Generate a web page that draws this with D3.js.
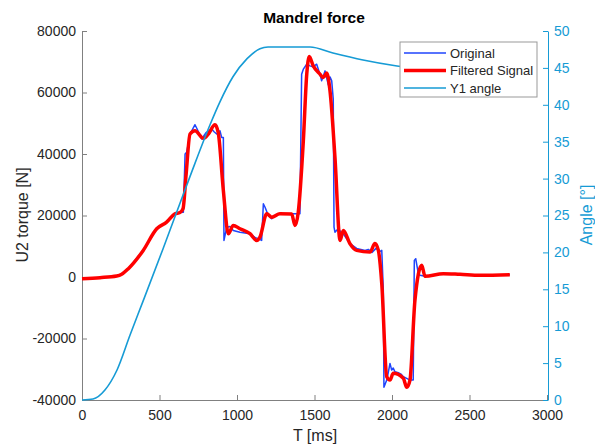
<!DOCTYPE html>
<html>
<head>
<meta charset="utf-8">
<script src="https://cdn.jsdelivr.net/npm/d3@7"></script>
<style>
  body { margin: 0; background: #fff; }
  svg { font-family: "Liberation Sans", Arial, sans-serif; }
  .tick text { font-size: 14px; }
</style>
</head>
<body>
<svg width="595" height="445"></svg>
<script>
// tick labels
var xTicks = [0, 500, 1000, 1500, 2000, 2500, 3000];
var yLeftTicks = [-40000, -20000, 0, 20000, 40000, 60000, 80000];
var yRightTicks = [0, 5, 10, 15, 20, 25, 30, 35, 40, 45, 50];

// Y1 angle [deg] vs T [ms]
var angleT = [0, 71, 148, 226, 310, 394, 523, 697, 826, 890, 974, 1065, 1148, 1200, 1471, 1619, 1813, 2032, 2245, 2748];
var angleV = [0, 0.14, 1.36, 4.07, 8.81, 13.4, 20.5, 30.3, 37.3, 40.4, 43.8, 46.25, 47.6, 47.83, 47.83, 47.02, 46.07, 45.26, 44.72, 44.3];

// filtered signal [N]
var filtT = [0, 116, 224, 256, 299, 395, 482, 546, 600, 632, 652, 671, 697, 729, 783, 815, 858, 879, 912, 944,
  976, 1019, 1084, 1127, 1148, 1192, 1224, 1277, 1353, 1374, 1395, 1428, 1450, 1466, 1492, 1535, 1557, 1579, 1600, 1632,
  1665, 1686, 1729, 1772, 1858, 1890, 1912, 1934, 1966, 1987, 2008, 2073, 2095, 2116, 2148, 2192, 2213, 2331, 2439, 2568, 2760];
var filtV = [-530, -210, 310, 870, 2710, 8650, 15690, 17830, 20550, 20970, 22270, 32970, 46500, 47570, 45070, 46500, 49515, 46920, 28110, 14070,
  16760, 15690, 14070, 11890, 12960, 20550, 19450, 20550, 20490, 16760, 20970, 44330, 65960, 71730, 68650, 65960, 64860, 66380, 60540, 38910,
  11890, 15140, 10820, 8650, 8100, 10920, 8650, -2150, -32440, -33510, -31340, -32960, -35880, -33510, -7570, 3785, 217, 1090, 866, 540, 768];

// original signal [N]
var origT = [0, 116, 224, 256, 299, 395, 482, 546, 600, 632, 654, 665, 675, 697, 729, 742, 772, 800, 837, 852,
  869, 890, 901, 912, 916, 934, 955, 976, 1019, 1084, 1116, 1159, 1170, 1181, 1202, 1224, 1252, 1310, 1406, 1417,
  1428, 1450, 1471, 1490, 1514, 1535, 1546, 1568, 1589, 1600, 1611, 1621, 1626, 1632, 1654, 1671, 1686, 1729, 1772, 1826,
  1847, 1871, 1897, 1923, 1934, 1944, 1948, 1966, 1974, 1987, 1998, 2008, 2019, 2041, 2058, 2073, 2095, 2116, 2137, 2144,
  2153, 2170, 2181, 2213, 2331, 2439, 2568, 2760];
var origV = [-530, -210, 310, 870, 2710, 8650, 15690, 17830, 20550, 20970, 21070, 40010, 40530, 46500, 49520, 48220, 44880, 46920, 48120, 47245,
  46500, 47570, 45400, 45400, 11890, 16210, 16430, 15140, 14585, 14070, 12870, 11890, 23800, 22690, 20000, 18930, 20330, 20550, 20550, 65960,
  67580, 69200, 68650, 68330, 69200, 65960, 63790, 67030, 62490, 65080, 63790, 57850, 16210, 14585, 15785, 14490, 14070, 10820, 9300, 8650,
  8970, 8000, 9300, 8325, 8650, -4320, -35880, -33510, -31570, -28100, -30270, -29620, -30820, -31150, -31570, -32440, -32960, -33510, -33510, 5406,
  5957, 1090, 540, 217, 1090, 866, 540, 768];

var legendNames = ["Original", "Filtered Signal", "Y1 angle"];

var BLUE = "#1f45fc", RED = "#ff0000", CYAN = "#169bd5", GREY = "#808080", TEXT = "#262626";

var svg = d3.select("svg");

var x = d3.scaleLinear().domain([0, 3000]).range([82, 547]);
var yL = d3.scaleLinear().domain([-40000, 80000]).range([400, 31]);
var yR = d3.scaleLinear().domain([0, 50]).range([400, 31]);

function pairs(ts, vs){ return ts.map(function(t, i){ return [t, vs[i]]; }); }

// axes (ticks point inward like matlab)
var gx = svg.append("g").attr("transform", "translate(0,400)")
  .call(d3.axisBottom(x).tickValues(xTicks).tickFormat(function(d){ return String(d); })
    .tickSizeInner(-5).tickSizeOuter(0).tickPadding(10));
var gl = svg.append("g").attr("transform", "translate(82,0)")
  .call(d3.axisLeft(yL).tickValues(yLeftTicks).tickFormat(function(d){ return String(d); })
    .tickSizeInner(-5).tickSizeOuter(0).tickPadding(6));
var gr = svg.append("g").attr("transform", "translate(548,0)")
  .call(d3.axisRight(yR).tickValues(yRightTicks).tickFormat(function(d){ return String(d); })
    .tickSizeInner(-5).tickSizeOuter(0).tickPadding(6));

[gx, gl].forEach(function(g){
  g.select(".domain").attr("stroke", GREY);
  g.selectAll(".tick line").attr("stroke", GREY);
  g.selectAll(".tick text").attr("fill", TEXT).attr("font-family", null);
});
gr.select(".domain").attr("stroke", CYAN);
gr.selectAll(".tick line").attr("stroke", CYAN);
gr.selectAll(".tick text").attr("fill", CYAN).attr("font-family", null);

// lines
var lineL = d3.line().x(function(d){ return x(d[0]); }).y(function(d){ return yL(d[1]); });
var lineR = d3.line().x(function(d){ return x(d[0]); }).y(function(d){ return yR(d[1]); }).curve(d3.curveMonotoneX);

svg.append("path").attr("d", lineL(pairs(origT, origV)))
  .attr("fill", "none").attr("stroke", BLUE).attr("stroke-width", 1.5).attr("stroke-linejoin", "round");
svg.append("path").attr("d", lineL.curve(d3.curveMonotoneX)(pairs(filtT, filtV)))
  .attr("fill", "none").attr("stroke", RED).attr("stroke-width", 3.5).attr("stroke-linejoin", "round");
svg.append("path").attr("d", lineR(pairs(angleT, angleV)))
  .attr("fill", "none").attr("stroke", CYAN).attr("stroke-width", 1.6);

// titles
svg.append("text").attr("x", 314).attr("y", 23).attr("text-anchor", "middle")
  .attr("font-weight", "bold").attr("font-size", 15.5).attr("fill", "#000").text("Mandrel force");
svg.append("text").attr("x", 315).attr("y", 441).attr("text-anchor", "middle")
  .attr("font-size", 16).attr("fill", TEXT).text("T [ms]");
svg.append("text").attr("transform", "translate(28,215) rotate(-90)").attr("text-anchor", "middle")
  .attr("font-size", 16).attr("fill", TEXT).text("U2 torque [N]");
svg.append("text").attr("transform", "translate(592,215) rotate(-90)").attr("text-anchor", "middle")
  .attr("font-size", 16).attr("fill", CYAN).text("Angle [°]");

// legend
var lg = svg.append("g");
lg.append("rect").attr("x", 400).attr("y", 42).attr("width", 137).attr("height", 55)
  .attr("fill", "#fff").attr("stroke", "#999").attr("stroke-width", 1);
var colors = [BLUE, RED, CYAN], widths = [1.5, 3.5, 1.6];
legendNames.forEach(function(n, i){
  var yy = 53 + i * 17.5;
  lg.append("line").attr("x1", 404).attr("x2", 446).attr("y1", yy).attr("y2", yy)
    .attr("stroke", colors[i]).attr("stroke-width", widths[i]);
  lg.append("text").attr("x", 450).attr("y", yy + 4.5).attr("font-size", 13).attr("fill", TEXT).text(n);
});
</script>
</body>
</html>
